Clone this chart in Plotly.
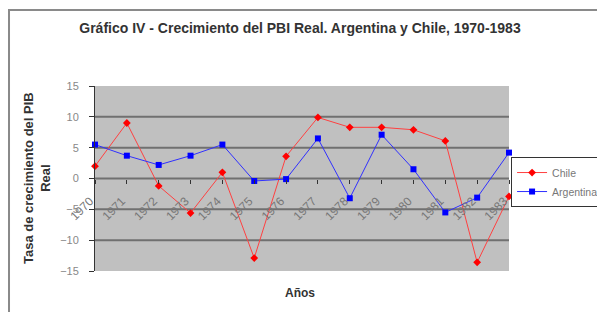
import plotly.graph_objects as go

years = list(range(1970, 1984))
year_labels = [str(y) for y in years]
chile = [2.0, 9.0, -1.2, -5.6, 1.0, -12.9, 3.6, 9.9, 8.3, 8.3, 7.9, 6.1, -13.6, -2.9]
argentina = [5.5, 3.7, 2.2, 3.7, 5.5, -0.4, -0.1, 6.5, -3.2, 7.1, 1.5, -5.5, -3.1, 4.2]
y_ticks = [-15, -10, -5, 0, 5, 10, 15]
grid_vals = [-10, -5, 0, 5, 10]

fig = go.Figure()
fig.add_trace(go.Scatter(
    x=years, y=chile, name="Chile", mode="lines+markers",
    line=dict(color="#FF4040", width=1),
    marker=dict(symbol="diamond", size=6, color="#FF0000"),
    cliponaxis=False))
fig.add_trace(go.Scatter(
    x=years, y=argentina, name="Argentina", mode="lines+markers",
    line=dict(color="#3030FF", width=1),
    marker=dict(symbol="square", size=6, color="#0000FF"),
    cliponaxis=False))

for g in grid_vals:
    fig.add_shape(type="line", xref="paper", x0=0, x1=1, yref="y", y0=g, y1=g,
                  line=dict(color="#707070", width=2), layer="below")

# outer chart border
fig.add_shape(type="rect", xref="paper", yref="paper",
              x0=-0.2077, x1=1.6, y0=-0.5, y1=1.411,
              line=dict(color="#8A8A8A", width=2), layer="below")

fig.update_layout(
    width=597, height=304,
    margin=dict(l=87, r=96, t=78, b=41, autoexpand=False),
    paper_bgcolor="white",
    plot_bgcolor="#C0C0C0",
    font=dict(family="Arial, Liberation Sans", size=11, color="#666666"),
    title=dict(text="<b>Gráfico IV - Crecimiento del PBI Real. Argentina y Chile, 1970-1983</b>",
               x=(300 - 8) / 597, xref="container", xanchor="center",
               y=1 - 20 / 304, yref="container", yanchor="middle",
               font=dict(size=14, color="#333333")),
    showlegend=True,
    legend=dict(x=1.005, y=0.616, xanchor="left", yanchor="top",
                bgcolor="white", bordercolor="#333333", borderwidth=1,
                font=dict(size=10.5, color="#777777"), tracegroupgap=0,
                itemwidth=30),
    xaxis=dict(range=[1970, 1983], tickvals=years, ticktext=year_labels,
               tickangle=-45, ticks="outside", ticklen=4, tickcolor="#333333",
               showgrid=False, zeroline=False, showline=False,
               anchor="free", position=0.5, automargin=False,
               ticklabelstandoff=6, ticklabelshift=-5,
               tickfont=dict(size=12, color="#777777")),
    yaxis=dict(range=[-15, 15], tickvals=y_ticks, ticks="outside", ticklen=5,
               tickcolor="#333333", showgrid=False, zeroline=False,
               showline=True, linecolor="#333333", linewidth=1,
               automargin=False, ticklabelstandoff=8,
               tickfont=dict(size=11, color="#888888")),
    annotations=[
        dict(text="<b>Tasa de crecimiento del PIB<br>Real</b>", xref="paper", yref="paper",
             x=-0.14, y=0.503, xanchor="center", yanchor="middle", textangle=-90,
             showarrow=False, font=dict(size=13, color="#333333")),
        dict(text="<b>Años</b>", xref="paper", yref="paper",
             x=0.496, y=-0.119, xanchor="center", yanchor="middle",
             showarrow=False, font=dict(size=12, color="#333333")),
    ],
)

fig.write_html("out.html")
